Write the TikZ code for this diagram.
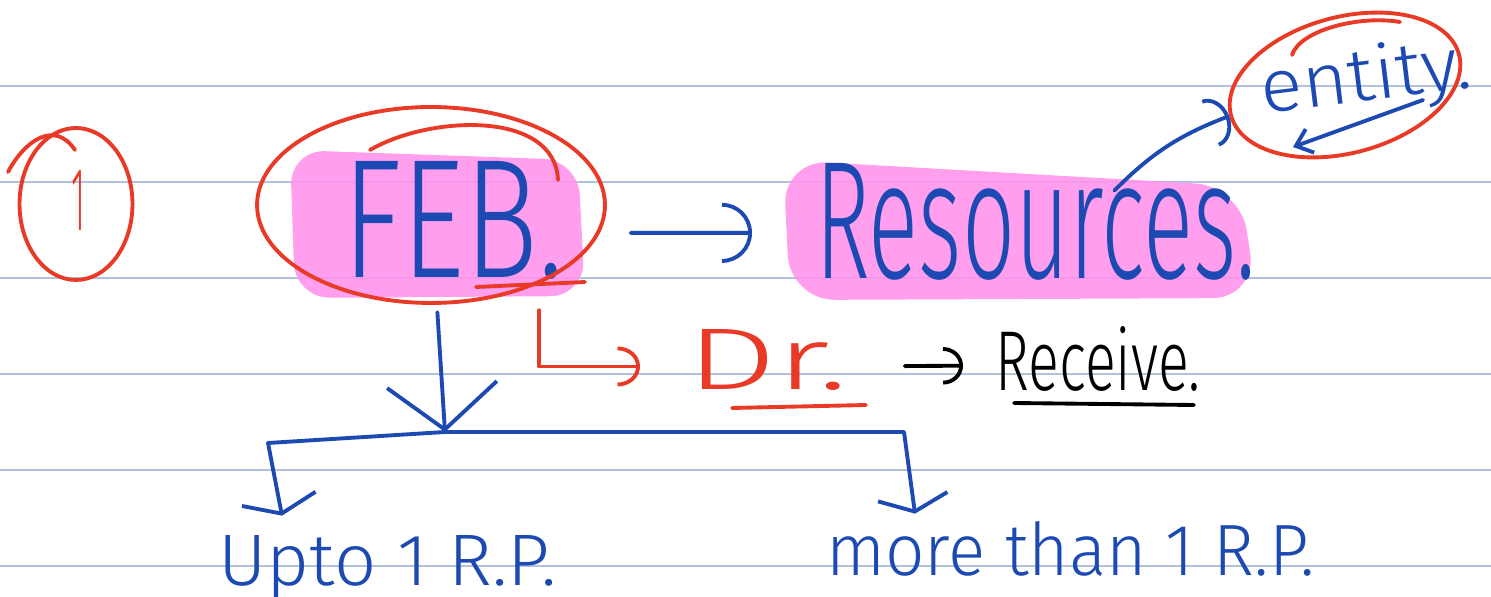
\documentclass[tikz,border=0pt]{standalone}
\usepackage{fontspec}
\setmainfont{Fira Sans}[UprightFont={* Light}]
\usepackage{graphicx}
\usetikzlibrary{arrows.meta,shapes.geometric}
\newlength{\pxu}
\setlength{\pxu}{0.02cm}
\newcommand{\hand}[3]{\resizebox{#1\pxu}{#2\pxu}{#3}}
\definecolor{penblue}{RGB}{28,74,178}
\definecolor{penred}{RGB}{232,58,38}
\definecolor{hilite}{RGB}{255,146,236}
\definecolor{ruleline}{RGB}{178,194,222}
\begin{document}
\begin{tikzpicture}[x=0.02cm,y=-0.02cm,
	txt/.style={inner sep=0pt,anchor=base west},
	bluepen/.style={draw=penblue,line width=2.2pt,line cap=round,line join=round},
	redpen/.style={draw=penred,line width=2.2pt,line cap=round,line join=round},
	blackpen/.style={draw=black,line width=2.2pt,line cap=round,line join=round},
	ring/.style={draw=penred,line width=2.2pt,ellipse,inner sep=0pt}]
				  \useasboundingbox (0,0) rectangle (1491,597);
				  %RULED LINES
				  \foreach \ry in {86,182,278,374,470,566}
				  	\draw[ruleline,line width=1pt] (0,\ry) -- (1491,\ry);
				  %HIGHLIGHTS
				  \fill[hilite,fill opacity=0.88,rounded corners=0.7cm] (290,150) -- (578,160) -- (585,296) -- (295,298) -- cycle;
				  \fill[hilite,fill opacity=0.88,rounded corners=0.9cm] (783,160) -- (1240,186) -- (1257,298) -- (790,300) -- cycle;
				  %TEXTS
				  \node[ring,minimum width=2.26cm,minimum height=3.04cm] (one) at (76,204) {};
				  \node[inner sep=0pt,text=penred] (num) at (78,200) {\hand{14}{60}{1}};
				  \node[txt,text=penblue] (feb) at (342,278) {\hand{222}{116}{FEB.}};
				  \node[ring,minimum width=6.96cm,minimum height=3.92cm] (febring) at (431,205) {};
				  \node[txt,text=penblue] (res) at (815,279) {\hand{440}{115}{Resources.}};
				  \node[ring,rotate=15,minimum width=4.72cm,minimum height=2.72cm] (entring) at (1345,85) {};
				  \node[inner sep=0pt,rotate=7,text=penblue] (ent) at (1366,80) {\hand{212}{56}{entity.}};
				  \node[txt,text=penred] (dr) at (686,390) {\hand{162}{60}{Dr.}};
				  \node[txt] (recv) at (995,391) {\hand{205}{64}{Receive.}};
				  \node[txt,text=penblue] (upto) at (218,586) {\hand{338}{50}{Upto 1 R.P.}};
				  \node[txt,text=penblue] (more) at (826,576) {\hand{488}{54}{more than 1 R.P.}};
				  %EXTRA STROKES
				  \draw[redpen] (8,172) .. controls (25,140) and (55,120) .. (75,150);
				  \draw[redpen] (370,150) .. controls (430,115) and (555,110) .. (558,180);
				  \draw[redpen] (1292,55) .. controls (1300,30) and (1360,15) .. (1400,22);
				  \draw[redpen] (476,287) -- (585,282);
				  \draw[redpen] (732,408) -- (866,405);
				  \draw[blackpen] (1014,403) -- (1194,405);
				  %ARROWS
				  \draw[bluepen,-{Arc Barb[length=0.6cm,width=1.2cm]},shorten <=1.32cm,shorten >=1.26cm] ([yshift=-0.24cm]feb.east) -- ([yshift=-0.21cm]res.west);
				  \draw[bluepen,-{Arc Barb[length=0.4cm,width=1cm]}] ([shift={(79,27)}]res.north) to[bend left=12] (entring.west);
				  \coordinate (ul1) at (1423,100);
				  \coordinate (ul2) at (1293,147);
				  \draw[bluepen,-{Straight Barb[length=0.3cm,width=0.5cm]}] (ul1) -- (ul2);
				  \draw[redpen,-{Arc Barb[length=0.45cm,width=0.8cm]}] ([shift={(86,30)}]feb.south) |- ([shift={(-46,6)}]dr.west);
				  \draw[blackpen,-{Arc Barb[length=0.4cm,width=0.75cm]},shorten <=1.12cm,shorten >=0.64cm] ([yshift=-0.12cm]dr.east) -- ([yshift=-0.12cm]recv.west);
				  %FORK
				  \coordinate (fork) at (445,432);
				  \coordinate (bl) at (268,443);
				  \coordinate (br) at (904,432);
				  \draw[bluepen,-{Straight Barb[length=0.9cm,width=2.2cm]}] ([shift={(-16,32)}]feb.south) -- (fork);
				  \draw[bluepen,-{Straight Barb[length=0.3cm,width=1.5cm]}] (fork) -- (bl) -- ([shift={(64,-20)}]upto.north west);
				  \draw[bluepen,-{Straight Barb[length=0.3cm,width=1.4cm]}] (fork) -- (br) -- ([shift={(89,-8)}]more.north west);
				  \end{tikzpicture}
\end{document}
